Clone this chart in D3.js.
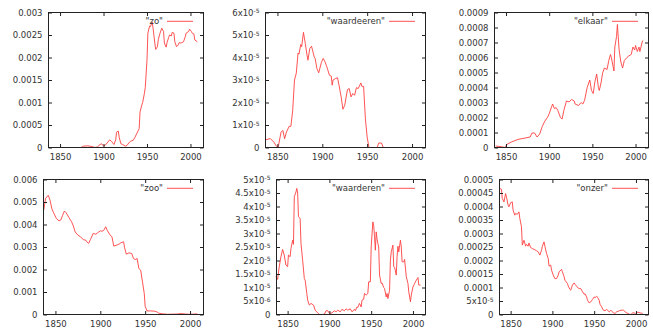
<!DOCTYPE html>
<html>
<head>
<meta charset="utf-8">
<script src="https://cdn.jsdelivr.net/npm/d3@7"></script>
<style>
  body { margin: 0; background: #fff; }
  svg { display: block; }
  text { font-family: "DejaVu Sans", sans-serif; font-size: 8.5px; fill: #333; }
</style>
</head>
<body>
<svg id="chart" width="653" height="329"></svg>
<script>
// x ticks shared by all panels
const xTicks = [1850, 1900, 1950, 2000];

// "zo"
const zoYears = [1838,1874,1877,1882,1887,1890,1893,1896,1898,1900,1902,1905,1907,1909,1912,1914,1915,1917,1918,1920,1922,1925,1927,1929,1931,1934,1936,1938,1941,1942,1944,1945,1947,1948,1950,1951,1953,1954,1956,1957,1959,1960,1962,1963,1965,1967,1969,1970,1972,1973,1975,1976,1978,1979,1981,1982,1984,1986,1987,1989,1992,1994,1995,1998,1999,2001,2002,2004,2005,2008];
const zoValues = [0,0,0.03,0.037,0.02,0,0.015,0.067,0.082,0.03,0.052,0.12,0.17,0.14,0.067,0.17,0.34,0.365,0.23,0.082,0.067,0.03,0.045,0.1,0.14,0.156,0.22,0.3,0.42,0.79,0.94,1.0,1.2,1.33,1.94,2.54,2.7,2.69,2.79,2.65,2.32,2.18,2.24,2.4,2.54,2.65,2.58,2.32,2.23,2.33,2.45,2.5,2.48,2.56,2.54,2.35,2.24,2.28,2.33,2.32,2.35,2.46,2.54,2.58,2.63,2.58,2.54,2.52,2.39,2.35].map(v => v * 1e-3);
const zoTicks = [0, 0.0005, 0.001, 0.0015, 0.002, 0.0025, 0.003];
const zoTickLabels = ["0", "0.0005", "0.001", "0.0015", "0.002", "0.0025", "0.003"];

// "waardeeren"
const waardeerenYears = [1837,1842,1846,1849,1851,1854,1856,1858,1860,1863,1865,1867,1869,1871,1873,1874,1876,1877,1879,1881,1883,1884,1886,1888,1891,1892,1894,1896,1899,1901,1903,1905,1908,1910,1911,1912,1915,1917,1919,1921,1923,1925,1928,1930,1932,1934,1936,1938,1940,1943,1944,1946,1948,1950,1952,1961,1963,1966,1968,2008];
const waardeerenValues = [0.34,0.4,0.24,0.05,0.05,0.68,0.76,0.39,0.68,0.94,0.94,1.65,3.0,3.3,4.2,4.15,4.58,4.48,5.12,4.63,4.1,3.88,4.4,4.5,4.03,3.96,3.51,3.32,3.78,3.96,3.81,3.59,3.21,3.17,2.77,3.0,3.07,3.1,2.69,2.25,1.7,1.88,2.57,2.62,2.25,2.4,2.32,2.66,2.62,2.87,2.72,2.72,1.28,0.46,0,0,0.2,0.2,0,0].map(v => v * 1e-5);
const waardeerenTicks = [0, 1e-5, 2e-5, 3e-5, 4e-5, 5e-5, 6e-5];
const waardeerenTickLabels = ["0", "1x10^-5", "2x10^-5", "3x10^-5", "4x10^-5", "5x10^-5", "6x10^-5"];

// "elkaar"
const elkaarYears = [1838,1845,1849,1851,1856,1864,1872,1878,1880,1883,1886,1889,1892,1895,1898,1900,1903,1904,1906,1908,1910,1913,1915,1917,1920,1923,1926,1929,1930,1934,1937,1939,1941,1944,1947,1949,1951,1953,1955,1957,1958,1960,1962,1964,1967,1969,1971,1972,1974,1975,1976,1978,1979,1981,1983,1985,1987,1990,1992,1995,1997,1999,2000,2002,2004,2005,2008,2009];
const elkaarValues = [0.1,0.05,0,0.2,0.36,0.54,0.63,0.7,0.96,0.97,0.7,0.9,1.4,1.76,2.0,2.25,2.75,2.9,2.6,2.66,2.48,2.0,1.9,2.48,3.1,3.04,3.2,3.1,2.9,2.8,3.0,2.9,3.15,4.0,4.5,3.8,3.6,4.4,4.9,4.0,3.8,4.3,5.0,5.3,5.2,5.8,6.2,6.0,5.4,5.1,6.7,7.4,8.2,6.5,5.7,5.3,5.8,6.0,6.1,6.2,6.7,6.5,6.8,6.4,6.7,6.4,7.1,7.15].map(v => v * 1e-4);
const elkaarTicks = [0, 0.0001, 0.0002, 0.0003, 0.0004, 0.0005, 0.0006, 0.0007, 0.0008, 0.0009];
const elkaarTickLabels = ["0", "0.0001", "0.0002", "0.0003", "0.0004", "0.0005", "0.0006", "0.0007", "0.0008", "0.0009"];

// "zoo"
const zooYears = [1837,1839,1842,1844,1846,1848,1851,1854,1856,1858,1860,1862,1865,1868,1870,1872,1875,1878,1881,1884,1885,1887,1889,1892,1895,1897,1900,1902,1904,1906,1908,1911,1913,1915,1918,1921,1923,1926,1927,1929,1932,1935,1937,1939,1941,1943,1945,1947,1949,1950,1952,1956,1960,1963,1965,1969,1975,1985,1990,1995,2000,2005,2008];
const zooValues = [4.64,5.16,5.3,5.08,4.7,4.52,4.27,4.16,4.2,4.41,4.6,4.52,4.31,4.12,3.93,3.67,3.53,3.45,3.33,3.3,3.23,3.16,3.33,3.6,3.57,3.63,3.72,3.7,3.75,3.9,3.72,3.53,3.45,3.04,3.08,3.13,3.19,3.23,2.98,2.68,2.74,2.71,2.49,2.44,2.49,2.04,1.97,1.45,0.93,0.37,0.16,0.16,0.15,0.12,0.06,0.03,0.01,0.02,0.04,0.02,0.01,0.02,0.03].map(v => v * 1e-3);
const zooTicks = [0, 0.001, 0.002, 0.003, 0.004, 0.005, 0.006];
const zooTickLabels = ["0", "0.001", "0.002", "0.003", "0.004", "0.005", "0.006"];

// "waarderen"
const waarderenYears = [1836,1838,1840,1842,1844,1846,1848,1850,1851,1853,1854,1856,1857,1858,1860,1861,1862,1863,1865,1866,1868,1870,1871,1873,1874,1876,1878,1881,1883,1886,1888,1891,1894,1896,1898,1900,1903,1906,1908,1910,1913,1915,1918,1920,1922,1925,1927,1930,1931,1933,1934,1936,1938,1939,1941,1942,1944,1946,1947,1949,1950,1952,1953,1954,1955,1956,1957,1958,1959,1960,1962,1963,1965,1966,1968,1969,1970,1972,1973,1974,1976,1977,1978,1980,1981,1982,1983,1985,1986,1987,1989,1990,1992,1994,1995,1997,1998,2000,2002,2004,2006,2007,2009];
const waarderenValues = [1.4,1.3,1.77,2.14,2.41,2.2,1.83,1.77,2.2,2.14,2.44,2.75,2.6,4.36,4.54,4.67,4.5,3.62,3.56,2.63,2.01,1.33,1.27,0.78,0.53,0.35,0.41,0.35,0.16,0.06,0,0,0.01,0.14,0.14,0.04,0.06,0.14,0.1,0.16,0.1,0.19,0.14,0.21,0.16,0.21,0.1,0.19,0.14,0.28,0.26,0.41,0.28,0.53,0.56,0.78,0.72,0.78,1.21,1.21,2.5,3.43,3.3,2.88,2.38,3.06,2.81,2.63,2.5,1.46,1.15,1.17,1.0,0.96,0.65,0.78,0.59,0.9,2.01,2.32,2.57,1.77,1.75,1.46,2.14,2.53,2.32,2.75,2.5,1.95,1.95,2.04,1.4,1.15,0.84,0.47,0.72,1.02,1.15,1.27,1.37,1.09,1.09].map(v => v * 1e-5);
const waarderenTicks = [0, 5e-6, 1e-5, 1.5e-5, 2e-5, 2.5e-5, 3e-5, 3.5e-5, 4e-5, 4.5e-5, 5e-5];
const waarderenTickLabels = ["0", "5x10^-6", "1x10^-5", "1.5x10^-5", "2x10^-5", "2.5x10^-5", "3x10^-5", "3.5x10^-5", "4x10^-5", "4.5x10^-5", "5x10^-5"];

// "onzer"
const onzerYears = [1837,1839,1840,1842,1844,1845,1847,1848,1850,1852,1853,1855,1856,1858,1860,1861,1863,1864,1866,1868,1869,1871,1872,1874,1876,1879,1881,1883,1885,1887,1888,1890,1891,1893,1895,1896,1898,1899,1901,1903,1905,1907,1908,1911,1912,1914,1915,1918,1919,1921,1922,1924,1926,1927,1929,1930,1932,1934,1936,1938,1939,1941,1942,1944,1946,1948,1950,1951,1953,1954,1956,1957,1959,1961,1963,1965,1968,1970,1973,1975,1977,1980,1982,1985,1987,1989,1992,1994,1996,1998,2000,2002,2005,2008];
const onzerValues = [4.67,4.64,4.3,4.17,4.48,4.36,4.05,3.99,4.14,4.17,3.86,3.68,3.74,3.71,3.8,3.56,3.25,2.57,2.75,2.53,2.6,2.53,2.65,2.48,2.44,2.4,2.36,2.32,2.2,2.38,2.53,2.69,2.53,2.26,2.07,1.79,1.83,1.64,1.46,1.33,1.33,1.46,1.58,1.67,1.58,1.4,1.27,1.15,1.05,0.93,0.9,1.09,1.17,1.12,1.05,1.0,0.96,0.96,0.84,0.75,0.77,0.65,0.53,0.43,0.47,0.56,0.65,0.62,0.68,0.63,0.53,0.38,0.28,0.16,0.14,0.19,0.1,0.16,0.06,0.04,0.1,0.14,0.16,0.16,0.1,0.06,0.01,0,0.06,0.06,0.01,0.09,0.06,0.04].map(v => v * 1e-4);
const onzerTicks = [0, 5e-5, 0.0001, 0.00015, 0.0002, 0.00025, 0.0003, 0.00035, 0.0004, 0.00045, 0.0005];
const onzerTickLabels = ["0", "5x10^-5", "0.0001", "0.00015", "0.0002", "0.00025", "0.0003", "0.00035", "0.0004", "0.00045", "0.0005"];

const xDomain = [1836.7, 2015];
const lineColor = "#ff4040";
const tickLen = 3.5;

// plot boxes: left, right, top, bottom
const panels = [
  { word: '"zo"',         years: zoYears,         values: zoValues,         ticks: zoTicks,         labels: zoTickLabels,         box: [48.5, 203.5, 12.5, 147.5] },
  { word: '"waardeeren"', years: waardeerenYears, values: waardeerenValues, ticks: waardeerenTicks, labels: waardeerenTickLabels, box: [265.5, 425.5, 12.5, 147.5] },
  { word: '"elkaar"',     years: elkaarYears,     values: elkaarValues,     ticks: elkaarTicks,     labels: elkaarTickLabels,     box: [494.5, 648.5, 12.5, 147.5] },
  { word: '"zoo"',        years: zooYears,        values: zooValues,        ticks: zooTicks,        labels: zooTickLabels,        box: [43.5, 203.5, 179.5, 314.5] },
  { word: '"waarderen"',  years: waarderenYears,  values: waarderenValues,  ticks: waarderenTicks,  labels: waarderenTickLabels,  box: [276.5, 425.5, 179.5, 314.5] },
  { word: '"onzer"',      years: onzerYears,      values: onzerValues,      ticks: onzerTicks,      labels: onzerTickLabels,      box: [499.5, 648.5, 179.5, 314.5] }
];

const svg = d3.select("#chart");

// label like "5x10^-6" -> base text plus raised exponent
function setTickLabel(sel, label) {
  sel.text(null);
  const parts = label.split("^");
  sel.append("tspan").text(parts[0]);
  if (parts.length > 1) {
    sel.append("tspan")
      .attr("dy", "-0.45em")
      .style("font-size", "6px")
      .text(parts[1]);
  }
}

panels.forEach(p => {
  const [left, right, top, bottom] = p.box;
  const x = d3.scaleLinear().domain(xDomain).range([left, right]);
  const y = d3.scaleLinear().domain([0, p.ticks[p.ticks.length - 1]]).range([bottom, top]);

  const g = svg.append("g");

  // series line (drawn first so the frame sits on top)
  const pts = p.years.map((yr, i) => [yr, p.values[i]]);
  g.append("path")
    .datum(pts)
    .attr("fill", "none")
    .attr("stroke", lineColor)
    .attr("stroke-width", 0.9)
    .attr("stroke-linejoin", "round")
    .attr("d", d3.line().x(d => x(d[0])).y(d => y(d[1])));

  // axes, ticks pointing inward and mirrored
  const bottomAxis = g.append("g")
    .attr("transform", `translate(0,${bottom})`)
    .call(d3.axisBottom(x).tickValues(xTicks).tickSize(-tickLen).tickPadding(6.5).tickFormat(d3.format("d")));
  const topAxis = g.append("g")
    .attr("transform", `translate(0,${top})`)
    .call(d3.axisTop(x).tickValues(xTicks).tickSize(-tickLen).tickFormat(""));
  const leftAxis = g.append("g")
    .attr("transform", `translate(${left},0)`)
    .call(d3.axisLeft(y).tickValues(p.ticks).tickSize(-tickLen).tickPadding(6));
  const rightAxis = g.append("g")
    .attr("transform", `translate(${right},0)`)
    .call(d3.axisRight(y).tickValues(p.ticks).tickSize(-tickLen).tickFormat(""));

  [bottomAxis, topAxis, leftAxis, rightAxis].forEach(a => {
    a.attr("font-family", null).attr("font-size", null).attr("color", "#222");
    a.select(".domain").remove();
  });

  leftAxis.selectAll(".tick text").each(function(d, i) {
    setTickLabel(d3.select(this), p.labels[i]);
  });

  // frame
  g.append("rect")
    .attr("x", left).attr("y", top)
    .attr("width", right - left).attr("height", bottom - top)
    .attr("fill", "none")
    .attr("stroke", "#222")
    .attr("stroke-width", 1);

  // key, top right
  const keyY = top + 8.8;
  g.append("line")
    .attr("x1", right - 36.5).attr("x2", right - 10.5)
    .attr("y1", keyY).attr("y2", keyY)
    .attr("stroke", lineColor)
    .attr("stroke-width", 0.9);
  g.append("text")
    .attr("x", right - 40.5)
    .attr("y", keyY)
    .attr("dy", "0.35em")
    .attr("text-anchor", "end")
    .text(p.word);
});
</script>
</body>
</html>
